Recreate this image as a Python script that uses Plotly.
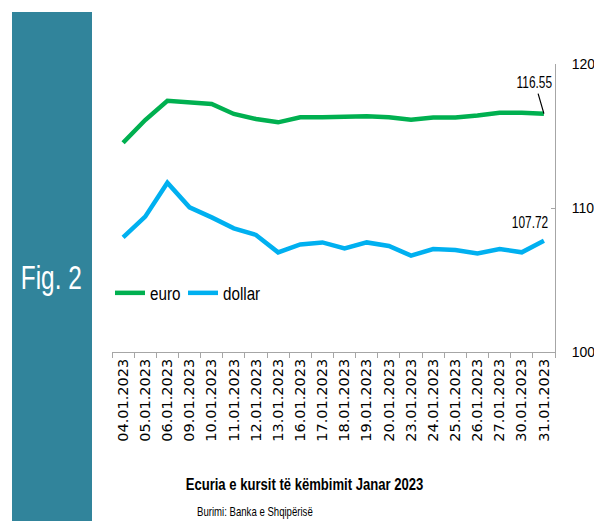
import plotly.graph_objects as go

dates = ["04.01.2023", "05.01.2023", "06.01.2023", "09.01.2023", "10.01.2023",
         "11.01.2023", "12.01.2023", "13.01.2023", "16.01.2023", "17.01.2023",
         "18.01.2023", "19.01.2023", "20.01.2023", "23.01.2023", "24.01.2023",
         "25.01.2023", "26.01.2023", "27.01.2023", "30.01.2023", "31.01.2023"]
euro = [114.53, 116.11, 117.45, 117.31, 117.22, 116.53, 116.18, 115.95, 116.30, 116.30,
        116.37, 116.37, 116.30, 116.13, 116.28, 116.28, 116.43, 116.62, 116.62, 116.55]
dollar = [107.96, 109.40, 111.76, 110.05, 109.35, 108.59, 108.13, 106.92, 107.47, 107.61,
          107.20, 107.61, 107.36, 106.69, 107.15, 107.08, 106.85, 107.15, 106.92, 107.72]
y_ticks = [100, 110, 120]

W, H = 594, 521
L, R, T, B = 112, 555, 64, 352
FONT = "Liberation Sans, Arial, sans-serif"

fig = go.Figure()
fig.add_trace(go.Scatter(x=dates, y=euro, mode="lines", name="euro", legendwidth=28,
                         line=dict(color="#00B050", width=4.5)))
fig.add_trace(go.Scatter(x=dates, y=dollar, mode="lines", name="dollar",
                         line=dict(color="#00B0F0", width=4.5)))

def px_x(p):
    return (p - L) / (R - L)

def px_y(p):
    return (B - p) / (B - T)

fig.add_shape(type="rect", xref="paper", yref="paper",
              x0=px_x(12), x1=px_x(92), y0=px_y(521), y1=px_y(12),
              fillcolor="#31849B", line_width=0, layer="below")
# annotation 0
fig.add_annotation(xref="paper", yref="paper", x=px_x(52), y=px_y(277),
                   xanchor="center", yanchor="middle",
                   text="Fig. 2", showarrow=False,
                   font=dict(family=FONT, size=33, color="white"))
# annotation 1
fig.add_annotation(x=dates[-1], y=euro[-1], text=f"{euro[-1]:.2f}",
                   showarrow=True, arrowhead=0, arrowwidth=1.2, arrowcolor="black",
                   ax=-9, ay=-31, standoff=0,
                   font=dict(family=FONT, size=17, color="black"))
# annotation 2
fig.add_annotation(x=dates[-1], y=dollar[-1], text=f"{dollar[-1]:.2f}",
                   showarrow=False, xshift=-14, yshift=18,
                   font=dict(family=FONT, size=17, color="black"))
# annotation 3
fig.add_annotation(xref="paper", yref="paper", x=px_x(304), y=px_y(484),
                   xanchor="center", yanchor="middle",
                   text="<b>Ecuria e kursit të këmbimit Janar 2023</b>", showarrow=False,
                   font=dict(family=FONT, size=17, color="black"))
# annotation 4
fig.add_annotation(xref="paper", yref="paper", x=px_x(195), y=px_y(512),
                   xanchor="left", yanchor="middle",
                   text="Burimi: Banka e Shqipërisë", showarrow=False,
                   font=dict(family=FONT, size=12, color="black"))

fig.update_layout(
    width=W, height=H,
    margin=dict(l=L, r=W - R, t=T, b=H - B),
    paper_bgcolor="white", plot_bgcolor="white",
    showlegend=True,
    legend=dict(orientation="h", x=px_x(110), y=px_y(293), yanchor="middle",
                xanchor="left", bgcolor="rgba(0,0,0,0)",
                font=dict(family=FONT, size=19, color="black"),
                itemwidth=30, tracegroupgap=0),
    xaxis=dict(type="category", tickangle=-90, showgrid=False, automargin=False,
               showline=True, linecolor="#A6A6A6", linewidth=1,
               ticks="outside", ticklen=5, tickcolor="#A6A6A6", tickson="boundaries",
               range=[-0.5, len(dates) - 0.5],
               tickfont=dict(family="DejaVu Sans", size=14.5, color="black")),
    yaxis=dict(side="right", range=[100, 120], tickvals=y_ticks, showgrid=False,
               automargin=False,
               showline=True, linecolor="#A6A6A6", linewidth=1,
               ticks="inside", ticklen=4, tickcolor="#A6A6A6", zeroline=False,
               ticklabelstandoff=13,
               tickfont=dict(family=FONT, size=14, color="black")),
)

post = """
document.body.style.margin='0';
document.body.style.overflow='hidden';
function sq(el, f, origin){
  if(!el) return;
  el.style.transformBox='fill-box';
  el.style.transformOrigin=origin;
  el.style.transform='scaleX('+f+')';
}
var scales={0:[0.74,'center'],1:[0.7,'center'],2:[0.7,'center'],3:[0.77,'center'],4:[0.8,'left center']};
document.querySelectorAll('g.annotation').forEach(function(g){
  var i=g.getAttribute('data-index');
  if(scales[i]) sq(g.querySelector('text.annotation-text'), scales[i][0], scales[i][1]);
});
document.querySelectorAll('text.legendtext').forEach(function(t){ sq(t, 0.8, 'left center'); });
"""

fig.write_html("out.html", config={"displayModeBar": False}, post_script=post)
